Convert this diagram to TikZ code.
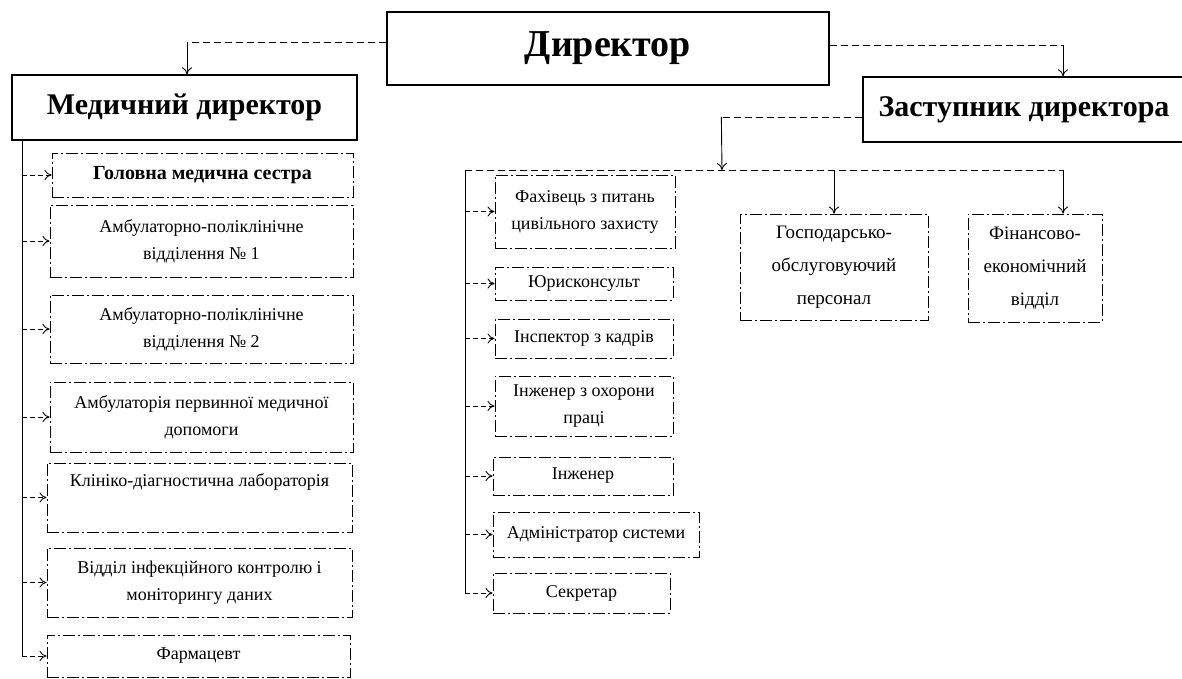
\documentclass[tikz,border=0pt]{standalone}
\usepackage{fontspec}
\setmainfont{Liberation Serif}
\usepackage{tikz}
\usetikzlibrary{arrows.meta, positioning, calc}

\begin{document}
\begin{tikzpicture}[x=1pt, y=-1pt]
  \tikzset{
    hbox/.style={draw, line width=1.3pt, inner sep=0pt, align=center,
      font=\bfseries\fontsize{30}{36}\selectfont},
    ubox/.style={draw, line width=0.9pt, inner sep=0pt, align=center,
      dash pattern=on 12pt off 3pt on 2pt off 3pt,
      font=\fontsize{18}{27}\selectfont},
    link/.style={draw, line width=0.9pt, ->, >={To[length=7pt,width=10pt]}},
    twig/.style={link, dash pattern=on 5pt off 3pt},
    rung/.style={draw, line width=0.9pt, dash pattern=on 7pt off 4pt}
  }
  \path[use as bounding box, fill=white] (0,0) rectangle (1182,679);

  \node[hbox, minimum width=442pt, minimum height=73pt,
    font=\bfseries\fontsize{38}{44}\selectfont] (dir) at (608,48.5) {Директор};
  \node[hbox, minimum width=345pt, minimum height=65pt] (med) at (184.5,107.5) {Медичний директор};
  \node[hbox, minimum width=322pt, minimum height=65pt] (zast) at (1024,109.5) {Заступник директора};

  \node[ubox, minimum width=301pt, minimum height=44pt,
    font=\bfseries\fontsize{20}{27}\selectfont] (gms) at (202.5,175) {Головна медична сестра};
  \node[ubox, minimum width=303pt, minimum height=72pt] (amb1) at (201.5,241) {Амбулаторно-поліклінічне\\відділення № 1};
  \node[ubox, minimum width=303pt, minimum height=68pt] (amb2) at (201.5,329) {Амбулаторно-поліклінічне\\відділення № 2};
  \node[ubox, minimum width=303pt, minimum height=70pt] (apmd) at (201.5,417) {Амбулаторія первинної медичної\\допомоги};
  \node[ubox, minimum width=305pt, minimum height=69pt] (kdl) at (199.5,497.5) {Клініко-діагностична лабораторія\\\strut};
  \node[ubox, minimum width=305pt, minimum height=69pt] (vik) at (199.5,582.5) {Відділ інфекційного контролю і\\моніторингу даних};
  \node[ubox, minimum width=303pt, minimum height=42pt] (farm) at (198.5,656) {Фармацевт};

  \node[ubox, minimum width=180pt, minimum height=73pt] (civ) at (585,211.5) {Фахівець з питань\\цивільного захисту};
  \node[ubox, minimum width=178pt, minimum height=33pt] (jur) at (584,283.5) {Юрисконсульт};
  \node[ubox, minimum width=178pt, minimum height=39pt] (kadr) at (584,338.5) {Інспектор з кадрів};
  \node[ubox, minimum width=178pt, minimum height=60pt] (ohp) at (584,406) {Інженер з охорони\\праці};
  \node[ubox, minimum width=180pt, minimum height=38pt] (eng) at (583,476) {Інженер};
  \node[ubox, minimum width=206pt, minimum height=45pt] (adm) at (596,534.5) {Адміністратор системи};
  \node[ubox, minimum width=177pt, minimum height=40pt] (sec) at (581.5,593) {Секретар};

  \node[ubox, minimum width=188pt, minimum height=106pt,
    font=\fontsize{19}{33}\selectfont] (gosp) at (834,267) {Господарсько-\\обслуговуючий\\персонал};
  \node[ubox, minimum width=134pt, minimum height=108pt,
    font=\fontsize{19}{33}\selectfont] (fin) at (1035,268) {Фінансово-\\економічний\\відділ};

  \coordinate (dm) at (187,42);
  \coordinate (dz) at (1063,45);
  \coordinate (busL) at (465,170);
  \coordinate (busA) at (722,170);
  \coordinate (busR) at (1063,170);
  \coordinate (mtr) at (22,140);

  \draw[rung] ([yshift=6.5pt]dir.west) -- (dm);
  \draw[link] (dm) -- (dm |- med.north);
  \draw[rung] ([yshift=3.5pt]dir.east) -- (dz);
  \draw[link] (dz) -- (dz |- zast.north);

  \draw[rung] ([yshift=-7.5pt]zast.west) -- ++(-141,0) coordinate (za);
  \draw[link] (za) -- (busA);
  \draw[rung] (busL) -- (busR);
  \draw[link] (gosp.north |- busA) -- (gosp.north);
  \draw[link] (busR) -- (busR |- fin.north);

  \draw[line width=0.9pt] (busL) -- (busL |- sec.west);
  \foreach \n in {civ,jur,kadr,ohp,eng,adm,sec}
    \draw[twig] (busL |- \n.west) -- (\n.west);

  \draw[line width=0.9pt] (mtr) -- (mtr |- farm.west);
  \foreach \n in {gms,amb1,amb2,apmd,kdl,vik,farm}
    \draw[twig] (mtr |- \n.west) -- (\n.west);
\end{tikzpicture}
\end{document}
